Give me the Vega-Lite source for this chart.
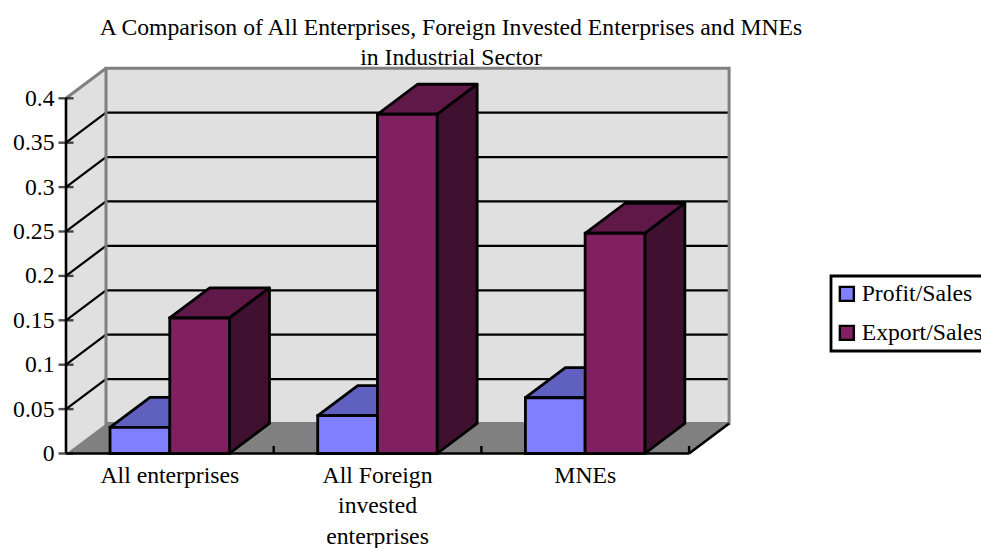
{
  "$schema": "https://vega.github.io/schema/vega-lite/v6.json",
  "width": 664,
  "height": 385.5,
  "autosize": "none",
  "padding": {"left": 66, "top": 68, "right": 251, "bottom": 94.5},
  "background": "white",
  "title": {
    "text": ["A Comparison of All Enterprises, Foreign Invested Enterprises and MNEs", "in Industrial Sector"],
    "font": "Liberation Serif", "fontSize": 23.7, "fontWeight": "normal", "color": "black",
    "anchor": "middle", "frame": "group", "dx": 53, "offset": -3, "lineHeight": 30
  },
  "config": {"view": {"stroke": null}, "legend": {"strokeWidth": 2.8}},
  "resolve": {"axis": {"y": "independent"}},
  "data": {"values": [
    {"category": "All enterprises", "series": "Profit/Sales", "value": 0.0295},
    {"category": "All enterprises", "series": "Export/Sales", "value": 0.1526},
    {"category": "All Foreign invested enterprises", "series": "Profit/Sales", "value": 0.0426},
    {"category": "All Foreign invested enterprises", "series": "Export/Sales", "value": 0.382},
    {"category": "MNEs", "series": "Profit/Sales", "value": 0.0628},
    {"category": "MNEs", "series": "Export/Sales", "value": 0.248}
  ]},
  "transform": [
    {"calculate": "indexof(['All enterprises','All Foreign invested enterprises','MNEs'], datum.category) + 0.212 + (datum.series === 'Export/Sales' ? 0.2875 : 0)", "as": "left"},
    {"calculate": "datum.left + 0.2875", "as": "right"}
  ],
  "layer": [
    {
      "description": "Floor of the 3D box",
      "data": {"values": [{"depth": 0}, {"depth": 1}]},
      "transform": [
        {"calculate": "datum.depth * 0.1926", "as": "x0"},
        {"calculate": "3 + datum.depth * 0.1926", "as": "x1"},
        {"calculate": "datum.depth * 0.0338", "as": "y0"}
      ],
      "mark": {"type": "area", "orient": "horizontal", "color": "#808080", "stroke": "#a0a0a0", "strokeWidth": 1},
      "encoding": {
        "x": {"field": "x0", "type": "quantitative", "scale": {"domain": [0, 3.197]}, "axis": null, "stack": null},
        "x2": {"field": "x1"},
        "y": {"field": "y0", "type": "quantitative", "scale": {"domain": [0, 0.4341]},
          "title": null,
          "axis": {"values": [0, 0.05, 0.1, 0.15, 0.2, 0.25, 0.3, 0.35, 0.4], "format": ".2~f", "grid": false, "ticks": false, "domain": false,
            "labelFont": "Liberation Serif", "labelFontSize": 23.7, "labelColor": "black", "labelPadding": 12}}
      }
    },
    {
      "description": "Left wall",
      "data": {"values": [{"depth": 0}, {"depth": 1}]},
      "transform": [
        {"calculate": "datum.depth * 0.1926", "as": "x0"},
        {"calculate": "datum.depth * 0.0338", "as": "y0"},
        {"calculate": "0.4 + datum.depth * 0.0338", "as": "y1"}
      ],
      "mark": {"type": "area", "color": "#e0e0e0"},
      "encoding": {
        "x": {"field": "x0", "type": "quantitative", "scale": {"domain": [0, 3.197]}, "axis": null},
        "y": {"field": "y1", "type": "quantitative", "scale": {"domain": [0, 0.4341]}, "axis": null, "stack": null},
        "y2": {"field": "y0"}
      }
    },
    {
      "description": "Back wall fill",
      "data": {"values": [{"wall": "back"}]},
      "mark": {"type": "rect", "fill": "#e0e0e0"},
      "encoding": {
        "x": {"datum": 0.1926, "type": "quantitative", "scale": {"domain": [0, 3.197]}, "axis": null},
        "x2": {"datum": 3.1926},
        "y": {"datum": 0.0338, "type": "quantitative", "scale": {"domain": [0, 0.4341]}, "axis": null},
        "y2": {"datum": 0.4338}
      }
    },
    {
      "description": "Gridlines running along the left wall and across the back wall",
      "data": {"values": [{"tick": 0.05}, {"tick": 0.1}, {"tick": 0.15}, {"tick": 0.2}, {"tick": 0.25}, {"tick": 0.3}, {"tick": 0.35}]},
      "transform": [
        {"calculate": "[0, 1, 2]", "as": "step"},
        {"flatten": ["step"]},
        {"calculate": "datum.step === 0 ? 0 : datum.step === 1 ? 0.1926 : 3.1926", "as": "gx"},
        {"calculate": "datum.tick + (datum.step === 0 ? 0 : 0.0338)", "as": "gy"}
      ],
      "mark": {"type": "line", "color": "black", "strokeWidth": 2.2},
      "encoding": {
        "x": {"field": "gx", "type": "quantitative", "scale": {"domain": [0, 3.197]}, "axis": null},
        "y": {"field": "gy", "type": "quantitative", "scale": {"domain": [0, 0.4341]}, "axis": null},
        "detail": {"field": "tick"},
        "order": {"field": "step"}
      }
    },
    {
      "description": "Back wall outline, over the gridline ends",
      "data": {"values": [{"wall": "back"}]},
      "mark": {"type": "rect", "fillOpacity": 0, "fill": "white", "stroke": "#808080", "strokeWidth": 3},
      "encoding": {
        "x": {"datum": 0.1926, "type": "quantitative", "scale": {"domain": [0, 3.197]}, "axis": null},
        "x2": {"datum": 3.1926},
        "y": {"datum": 0.0338, "type": "quantitative", "scale": {"domain": [0, 0.4341]}, "axis": null},
        "y2": {"datum": 0.4338}
      }
    },
    {
      "description": "Top edge of the left wall",
      "data": {"values": [{"wall": "left"}]},
      "mark": {"type": "rule", "color": "#808080", "strokeWidth": 3},
      "encoding": {
        "x": {"datum": 0, "type": "quantitative", "scale": {"domain": [0, 3.197]}, "axis": null},
        "x2": {"datum": 0.1926},
        "y": {"datum": 0.4, "type": "quantitative", "scale": {"domain": [0, 0.4341]}, "axis": null},
        "y2": {"datum": 0.4338}
      }
    },
    {
      "description": "Profit/Sales tops",
      "transform": [
        {"filter": "datum.series === 'Profit/Sales'"},
        {"calculate": "[0, 1]", "as": "depth"}, {"flatten": ["depth"]},
        {"calculate": "datum.left + datum.depth * 0.1926", "as": "a"},
        {"calculate": "datum.right + datum.depth * 0.1926", "as": "b"},
        {"calculate": "datum.value + datum.depth * 0.0338", "as": "h"}
      ],
      "mark": {"type": "area", "orient": "horizontal", "color": "#6060c0", "stroke": "black", "strokeWidth": 2.8, "strokeJoin": "round"},
      "encoding": {
        "x": {"field": "a", "type": "quantitative", "scale": {"domain": [0, 3.197]}, "axis": null, "stack": null},
        "x2": {"field": "b"},
        "y": {"field": "h", "type": "quantitative", "scale": {"domain": [0, 0.4341]}, "axis": null},
        "detail": {"field": "category"}
      }
    },
    {
      "description": "Profit/Sales fronts",
      "transform": [{"filter": "datum.series === 'Profit/Sales'"}],
      "mark": {"type": "rect", "stroke": "black", "strokeWidth": 2.8},
      "encoding": {
        "x": {"field": "left", "type": "quantitative", "scale": {"domain": [0, 3.197]}, "axis": null},
        "x2": {"field": "right"},
        "y": {"field": "value", "type": "quantitative", "scale": {"domain": [0, 0.4341]}, "axis": null},
        "y2": {"datum": 0},
        "color": {"field": "series", "type": "nominal", "title": null,
          "scale": {"domain": ["Profit/Sales", "Export/Sales"], "range": ["#8080ff", "#802060"]},
          "legend": {"orient": "none", "legendX": 765, "legendY": 208, "padding": 6, "strokeColor": "black",
            "symbolType": "square", "symbolSize": 196, "symbolOffset": -2, "symbolStrokeColor": "black", "symbolStrokeWidth": 2.4,
            "labelFont": "Liberation Serif", "labelFontSize": 23.7, "labelColor": "black", "labelOffset": 3, "rowPadding": 14, "labelLimit": 300}}
      }
    },
    {
      "description": "Export/Sales tops",
      "transform": [
        {"filter": "datum.series === 'Export/Sales'"},
        {"calculate": "[0, 1]", "as": "depth"}, {"flatten": ["depth"]},
        {"calculate": "datum.left + datum.depth * 0.1926", "as": "a"},
        {"calculate": "datum.right + datum.depth * 0.1926", "as": "b"},
        {"calculate": "datum.value + datum.depth * 0.0338", "as": "h"}
      ],
      "mark": {"type": "area", "orient": "horizontal", "color": "#601848", "stroke": "black", "strokeWidth": 2.8, "strokeJoin": "round"},
      "encoding": {
        "x": {"field": "a", "type": "quantitative", "scale": {"domain": [0, 3.197]}, "axis": null, "stack": null},
        "x2": {"field": "b"},
        "y": {"field": "h", "type": "quantitative", "scale": {"domain": [0, 0.4341]}, "axis": null},
        "detail": {"field": "category"}
      }
    },
    {
      "description": "Export/Sales right-hand sides",
      "transform": [
        {"filter": "datum.series === 'Export/Sales'"},
        {"calculate": "[0, 1]", "as": "depth"}, {"flatten": ["depth"]},
        {"calculate": "datum.right + datum.depth * 0.1926", "as": "a"},
        {"calculate": "datum.depth * 0.0338", "as": "l"},
        {"calculate": "datum.value + datum.depth * 0.0338", "as": "h"}
      ],
      "mark": {"type": "area", "color": "#401030", "stroke": "black", "strokeWidth": 2.8, "strokeJoin": "round"},
      "encoding": {
        "x": {"field": "a", "type": "quantitative", "scale": {"domain": [0, 3.197]}, "axis": null},
        "y": {"field": "h", "type": "quantitative", "scale": {"domain": [0, 0.4341]}, "axis": null, "stack": null},
        "y2": {"field": "l"},
        "detail": {"field": "category"}
      }
    },
    {
      "description": "Export/Sales fronts",
      "transform": [{"filter": "datum.series === 'Export/Sales'"}],
      "mark": {"type": "rect", "stroke": "black", "strokeWidth": 2.8},
      "encoding": {
        "x": {"field": "left", "type": "quantitative", "scale": {"domain": [0, 3.197]}, "axis": null},
        "x2": {"field": "right"},
        "y": {"field": "value", "type": "quantitative", "scale": {"domain": [0, 0.4341]}, "axis": null},
        "y2": {"datum": 0},
        "color": {"field": "series", "type": "nominal", "title": null,
          "scale": {"domain": ["Profit/Sales", "Export/Sales"], "range": ["#8080ff", "#802060"]}}
      }
    },
    {
      "description": "Vertical value axis line",
      "data": {"values": [{"axis": "value"}]},
      "mark": {"type": "rule", "color": "black", "strokeWidth": 2.6},
      "encoding": {
        "x": {"datum": 0, "type": "quantitative", "scale": {"domain": [0, 3.197]}, "axis": null},
        "y": {"datum": 0, "type": "quantitative", "scale": {"domain": [0, 0.4341]}, "axis": null},
        "y2": {"datum": 0.4}
      }
    },
    {
      "description": "Front edge of the floor",
      "data": {"values": [{"axis": "category"}]},
      "mark": {"type": "rule", "color": "black", "strokeWidth": 2.6},
      "encoding": {
        "x": {"datum": 0, "type": "quantitative", "scale": {"domain": [0, 3.197]}, "axis": null},
        "x2": {"datum": 3},
        "y": {"datum": 0, "type": "quantitative", "scale": {"domain": [0, 0.4341]}, "axis": null}
      }
    },
    {
      "description": "Right edge of the floor",
      "data": {"values": [{"axis": "floor"}]},
      "mark": {"type": "rule", "color": "black", "strokeWidth": 2.6},
      "encoding": {
        "x": {"datum": 3, "type": "quantitative", "scale": {"domain": [0, 3.197]}, "axis": null},
        "x2": {"datum": 3.1926},
        "y": {"datum": 0, "type": "quantitative", "scale": {"domain": [0, 0.4341]}, "axis": null},
        "y2": {"datum": 0.0338}
      }
    },
    {
      "description": "Value axis ticks crossing the axis line",
      "data": {"values": [{"tick": 0}, {"tick": 0.05}, {"tick": 0.1}, {"tick": 0.15}, {"tick": 0.2}, {"tick": 0.25}, {"tick": 0.3}, {"tick": 0.35}, {"tick": 0.4}]},
      "mark": {"type": "tick", "orient": "horizontal", "color": "black", "size": 15, "thickness": 2.4},
      "encoding": {
        "x": {"datum": 0, "type": "quantitative", "scale": {"domain": [0, 3.197]}, "axis": null},
        "y": {"field": "tick", "type": "quantitative", "scale": {"domain": [0, 0.4341]}, "axis": null}
      }
    },
    {
      "description": "Category separators rising from the front edge",
      "data": {"values": [{"boundary": 1}, {"boundary": 2}, {"boundary": 3}]},
      "mark": {"type": "rule", "color": "black", "strokeWidth": 2.4},
      "encoding": {
        "x": {"field": "boundary", "type": "quantitative", "scale": {"domain": [0, 3.197]}, "axis": null},
        "y": {"datum": 0, "type": "quantitative", "scale": {"domain": [0, 0.4341]}, "axis": null},
        "y2": {"datum": 0.0085}
      }
    },
    {
      "description": "Category labels",
      "data": {"values": [
        {"pos": 0.5, "label": "All enterprises"},
        {"pos": 1.5, "label": "All Foreign\ninvested\nenterprises"},
        {"pos": 2.5, "label": "MNEs"}
      ]},
      "mark": {"type": "text", "font": "Liberation Serif", "fontSize": 23.7, "color": "black", "lineBreak": "\n", "lineHeight": 30.5, "baseline": "top", "align": "center", "dy": 10},
      "encoding": {
        "x": {"field": "pos", "type": "quantitative", "scale": {"domain": [0, 3.197]}, "axis": null},
        "y": {"datum": 0, "type": "quantitative", "scale": {"domain": [0, 0.4341]}, "axis": null},
        "text": {"field": "label"}
      }
    }
  ]
}
